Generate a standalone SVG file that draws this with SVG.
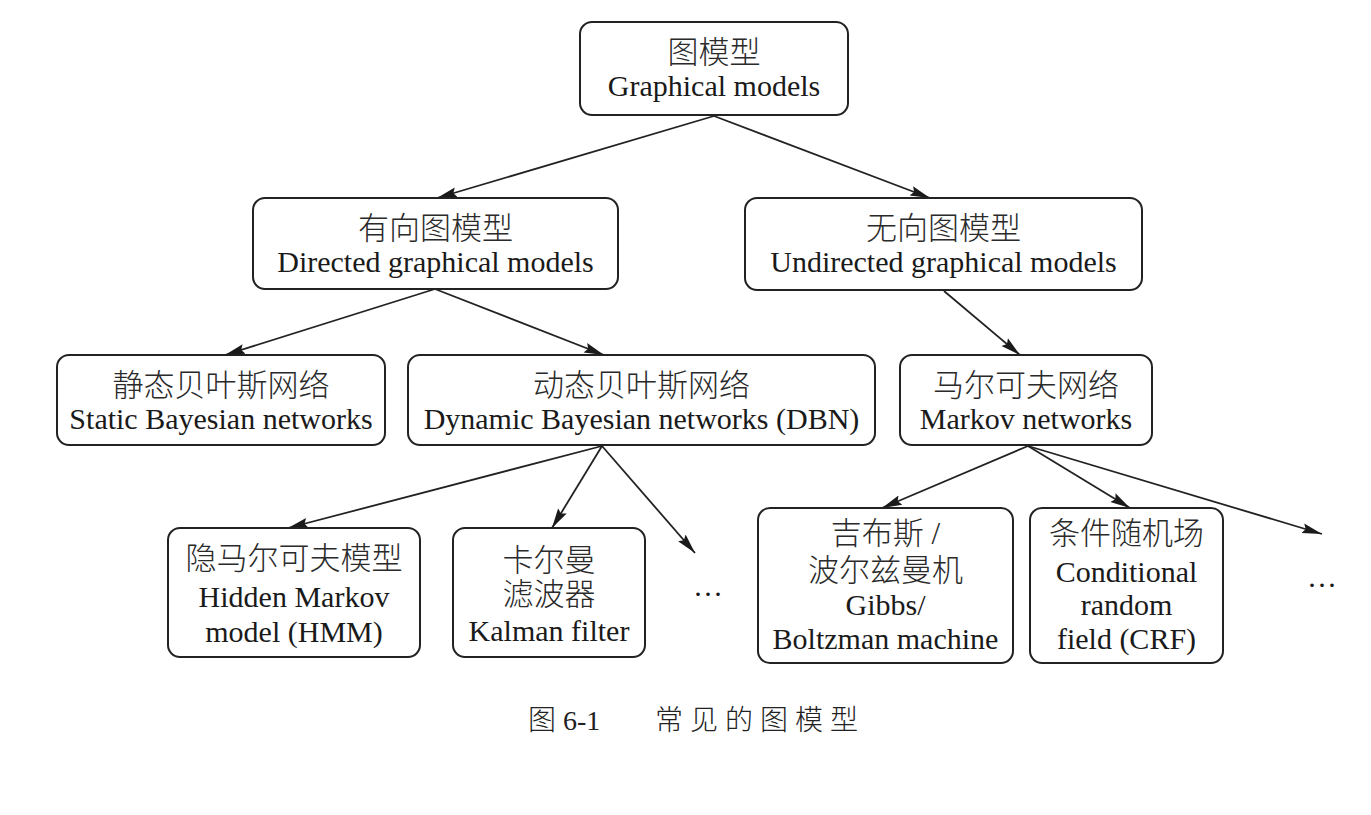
<svg xmlns="http://www.w3.org/2000/svg" width="1371" height="815" viewBox="0 0 1371 815">
<defs>
<marker id="arr" markerUnits="userSpaceOnUse" markerWidth="22" markerHeight="12" refX="20" refY="6" orient="auto">
<path d="M0,1 L20,6 L0,11 L3,6 z" fill="#1a1a1a"/>
</marker>
<style>
.box{fill:#fff;stroke:#222;stroke-width:2}
.en{font-family:"Liberation Serif","Times New Roman",serif;font-size:30px;fill:#1a1a1a;text-anchor:middle}
.zh{font-family:"Liberation Serif","Noto Sans CJK SC",sans-serif;font-size:31px;fill:#2a2a2a;text-anchor:middle;font-weight:300}
.edge{stroke:#222;stroke-width:1.8;fill:none;marker-end:url(#arr)}
.cap{font-family:"Liberation Serif","Noto Sans CJK SC",serif;font-size:28px;fill:#222;font-weight:300}
</style>
</defs>
<rect width="1371" height="815" fill="#fff"/>
<g id="connectors">
<line class="edge" x1="714" y1="116" x2="437" y2="198"/>
<line class="edge" x1="714" y1="116" x2="930" y2="198"/>
<line class="edge" x1="435" y1="289" x2="225" y2="355"/>
<line class="edge" x1="435" y1="289" x2="604" y2="355"/>
<line class="edge" x1="944" y1="291" x2="1020" y2="355"/>
<line class="edge" x1="602" y1="446" x2="288" y2="528"/>
<line class="edge" x1="602" y1="446" x2="552" y2="528"/>
<line class="edge" x1="602" y1="446" x2="695" y2="553"/>
<line class="edge" x1="1028" y1="446" x2="882" y2="508"/>
<line class="edge" x1="1028" y1="446" x2="1130" y2="508"/>
<line class="edge" x1="1028" y1="446" x2="1322" y2="534"/>
</g>
<g id="n-root">
<rect class="box" x="580" y="22" width="268" height="93" rx="12"/>
<text class="zh" x="714" y="63">图模型</text>
<text class="en" x="714" y="96">Graphical models</text>
</g>
<g id="n-directed">
<rect class="box" x="253" y="198" width="365" height="91" rx="12"/>
<text class="zh" x="435.5" y="239">有向图模型</text>
<text class="en" x="435.5" y="272">Directed graphical models</text>
</g>
<g id="n-undirected">
<rect class="box" x="745" y="198" width="397" height="92" rx="12"/>
<text class="zh" x="943.5" y="239">无向图模型</text>
<text class="en" x="943.5" y="272">Undirected graphical models</text>
</g>
<g id="n-static">
<rect class="box" x="57" y="355" width="328" height="90" rx="12"/>
<text class="zh" x="221" y="396">静态贝叶斯网络</text>
<text class="en" x="221" y="429">Static Bayesian networks</text>
</g>
<g id="n-dynamic">
<rect class="box" x="408" y="355" width="467" height="90" rx="12"/>
<text class="zh" x="641.5" y="396">动态贝叶斯网络</text>
<text class="en" x="641.5" y="429">Dynamic Bayesian networks (DBN)</text>
</g>
<g id="n-markov">
<rect class="box" x="900" y="355" width="252" height="90" rx="12"/>
<text class="zh" x="1026" y="396">马尔可夫网络</text>
<text class="en" x="1026" y="429">Markov networks</text>
</g>
<g id="n-hmm">
<rect class="box" x="168" y="528" width="252" height="129" rx="12"/>
<text class="zh" x="294" y="569">隐马尔可夫模型</text>
<text class="en" x="294" y="607">Hidden Markov</text>
<text class="en" x="294" y="642">model (HMM)</text>
</g>
<g id="n-kalman">
<rect class="box" x="453" y="528" width="192" height="129" rx="12"/>
<text class="zh" x="549" y="571">卡尔曼</text>
<text class="zh" x="549" y="605">滤波器</text>
<text class="en" x="549" y="641">Kalman filter</text>
</g>
<g id="n-more1">
<text class="en" x="708" y="604">···</text>
</g>
<g id="n-gibbs">
<rect class="box" x="758" y="508" width="255" height="155" rx="12"/>
<text class="zh" x="885.5" y="544">吉布斯 /</text>
<text class="zh" x="885.5" y="581">波尔兹曼机</text>
<text class="en" x="885.5" y="615">Gibbs/</text>
<text class="en" x="885.5" y="649">Boltzman machine</text>
</g>
<g id="n-crf">
<rect class="box" x="1030" y="508" width="193" height="155" rx="12"/>
<text class="zh" x="1126.5" y="544">条件随机场</text>
<text class="en" x="1126.5" y="582">Conditional</text>
<text class="en" x="1126.5" y="615">random</text>
<text class="en" x="1126.5" y="649">field (CRF)</text>
</g>
<g id="n-more2">
<text class="en" x="1322" y="595">···</text>
</g>
<g id="caption">
<text class="cap" x="528" y="730">图 6-1</text>
<text class="cap" x="655" y="730" letter-spacing="7">常见的图模型</text>
</g>
</svg>
